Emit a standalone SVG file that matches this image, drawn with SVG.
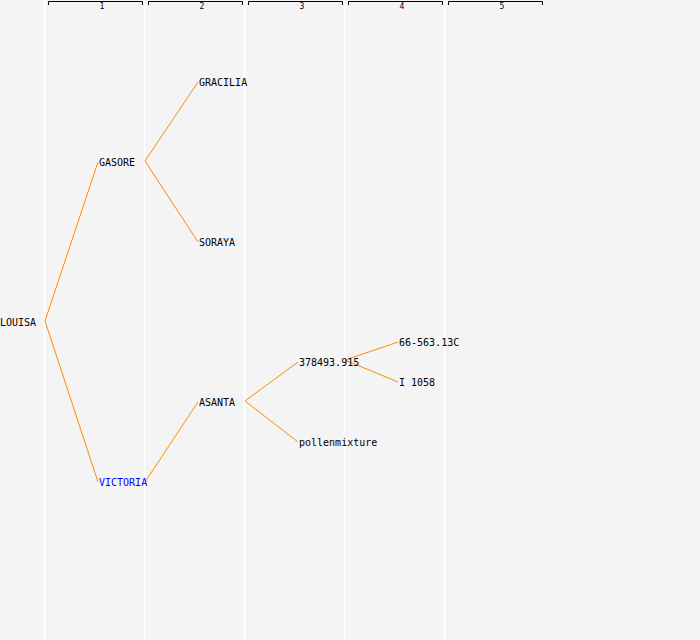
<svg xmlns="http://www.w3.org/2000/svg" width="700" height="640" viewBox="0 0 700 640">
<style>
.grid{stroke:#ffffff;stroke-width:1.5}
.br{fill:none;stroke:#000;stroke-width:1}
.hd{font-family:"DejaVu Sans Mono",monospace;font-size:8px;fill:#000;text-anchor:middle}
.lbl{font-family:"DejaVu Sans Mono",monospace;font-size:10px;fill:#000}
.blue{fill:#0000ff}
.edge{fill:none;stroke:#ff8c00;stroke-width:1}
</style>
<rect width="700" height="640" fill="#f4f4f4"/>
<g id="grid">
<line class="grid" x1="44.5" y1="0" x2="44.5" y2="640"/>
<line class="grid" x1="144.5" y1="0" x2="144.5" y2="640"/>
<line class="grid" x1="244.5" y1="0" x2="244.5" y2="640"/>
<line class="grid" x1="344.5" y1="0" x2="344.5" y2="640"/>
<line class="grid" x1="444.5" y1="0" x2="444.5" y2="640"/>
</g>
<g id="header">
<path class="br" d="M48.5,5 V1.5 H142.5 V5"/>
<path class="br" d="M148.5,5 V1.5 H242.5 V5"/>
<path class="br" d="M248.5,5 V1.5 H342.5 V5"/>
<path class="br" d="M348.5,5 V1.5 H442.5 V5"/>
<path class="br" d="M448.5,5 V1.5 H542.5 V5"/>
<text class="hd" x="102" y="9">1</text>
<text class="hd" x="202" y="9">2</text>
<text class="hd" x="302" y="9">3</text>
<text class="hd" x="402" y="9">4</text>
<text class="hd" x="502" y="9">5</text>
</g>
<g id="connectors">
<path class="edge" d="M98,162 L45,321 L98,482"/>
<path class="edge" d="M198,82 L145,161 L198,242"/>
<path class="edge" d="M198,402 L145,482"/>
<path class="edge" d="M298,362 L245,401 L298,442"/>
<path class="edge" d="M398,342 L345,360 L398,382"/>
</g>
<g id="n-louisa"><text class="lbl" x="0" y="326">LOUISA</text></g>
<g id="n-gasore"><text class="lbl" x="99" y="166">GASORE</text></g>
<g id="n-victoria"><text class="lbl blue" x="99" y="486">VICTORIA</text></g>
<g id="n-gracilia"><text class="lbl" x="199" y="86">GRACILIA</text></g>
<g id="n-soraya"><text class="lbl" x="199" y="246">SORAYA</text></g>
<g id="n-asanta"><text class="lbl" x="199" y="406">ASANTA</text></g>
<g id="n-378493"><text class="lbl" x="299" y="366">378493.915</text></g>
<g id="n-pollen"><text class="lbl" x="299" y="446">pollenmixture</text></g>
<g id="n-66563"><text class="lbl" x="399" y="346">66-563.13C</text></g>
<g id="n-i1058"><text class="lbl" x="399" y="386">I 1058</text></g>
</svg>
